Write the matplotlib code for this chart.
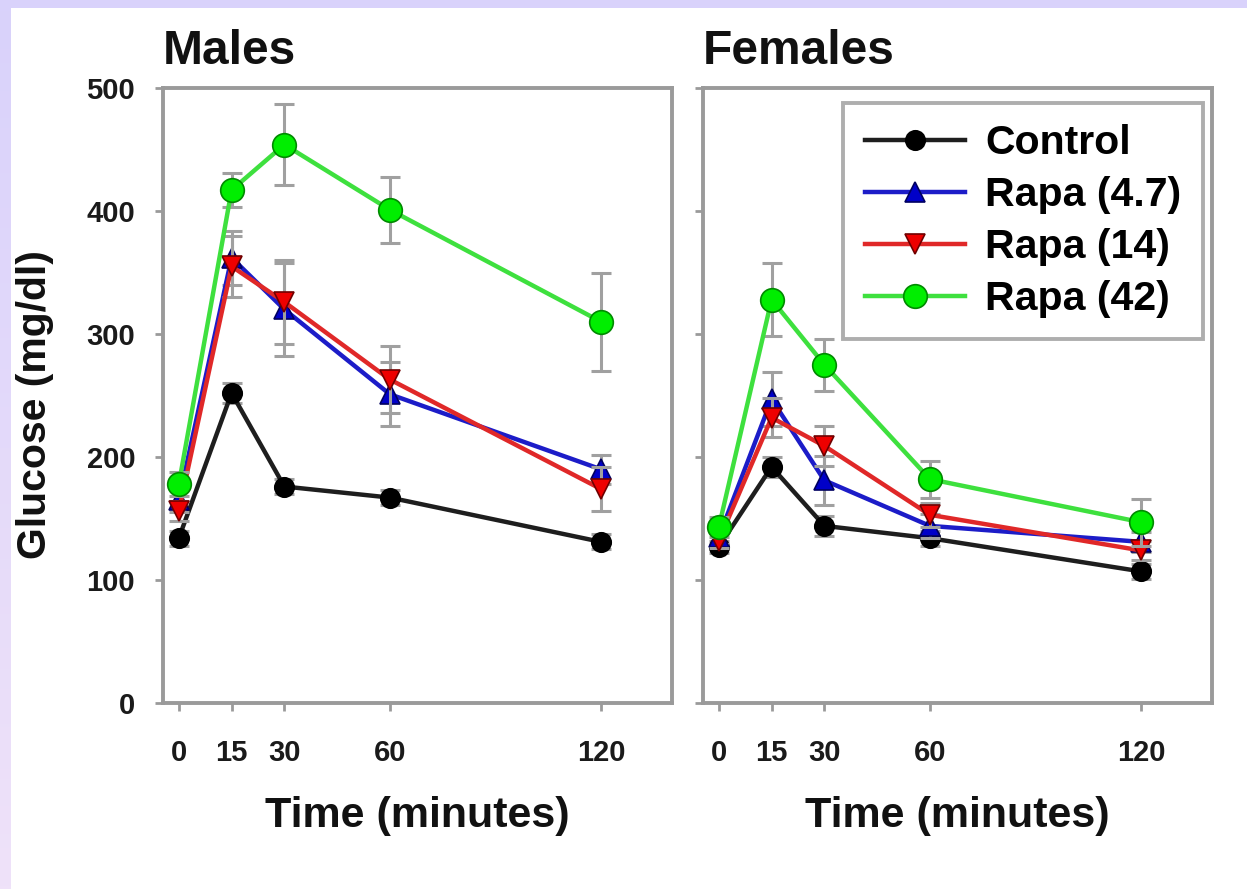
import numpy as np
import matplotlib
matplotlib.use("Agg")
import matplotlib.pyplot as plt
from matplotlib.patches import Rectangle

plt.rcParams['font.family'] = ['Liberation Sans', 'DejaVu Sans']
plt.rcParams['font.weight'] = 'bold'

# ---------------- data ----------------
times = [0, 15, 30, 60, 120]
time_labels = ['0', '15', '30', '60', '120']
y_ticks = [0, 100, 200, 300, 400, 500]

series_names = ['Control', 'Rapa (4.7)', 'Rapa (14)', 'Rapa (42)']

male_control = [134, 252, 176, 167, 131]
male_control_err = [6, 8, 6, 6, 6]
male_rapa47 = [165, 362, 320, 251, 190]
male_rapa47_err = [10, 22, 38, 26, 12]
male_rapa14 = [156, 355, 326, 263, 174]
male_rapa14_err = [8, 25, 34, 27, 18]
male_rapa42 = [178, 417, 454, 401, 310]
male_rapa42_err = [10, 14, 33, 27, 40]

female_control = [127, 192, 144, 134, 107]
female_control_err = [5, 8, 8, 6, 6]
female_rapa47 = [135, 247, 181, 144, 131]
female_rapa47_err = [6, 22, 20, 10, 8]
female_rapa14 = [132, 232, 209, 153, 124]
female_rapa14_err = [6, 16, 16, 10, 8]
female_rapa42 = [143, 328, 275, 182, 147]
female_rapa42_err = [8, 30, 21, 15, 19]

# ---------------- styles ----------------
styles = [
    dict(color='#1e1e1e', marker='o', mfc='#000000', mec='#000000', ms=14),
    dict(color='#1c1cc8', marker='^', mfc='#0000c8', mec='#000060', ms=15),
    dict(color='#e02828', marker='v', mfc='#ee0000', mec='#700000', ms=15),
    dict(color='#3ee03e', marker='o', mfc='#00ee00', mec='#008a00', ms=17),
]

W, H = 1247, 889
fig = plt.figure(figsize=(W / 100, H / 100), dpi=100)
fig.patch.set_facecolor('white')

# lavender border (top band + left gradient strip)
fig.patches.append(Rectangle((0, 1 - 8 / H), 1, 8 / H, transform=fig.transFigure,
                             facecolor='#d9d2fb', edgecolor='none', zorder=0))
strip = fig.add_axes([0, 0, 11 / W, 1 - 8 / H])
grad = np.linspace(0, 1, 256)[:, None]
c0 = np.array([0xd9, 0xd2, 0xfb]) / 255
c1 = np.array([0xef, 0xe2, 0xf9]) / 255
img = (c0[None, None, :] * (1 - grad[..., None]) + c1[None, None, :] * grad[..., None])
strip.imshow(img, aspect='auto', extent=[0, 1, 0, 1])
strip.set_axis_off()


def px_axes(left, top, right, bottom):
    return fig.add_axes([left / W, 1 - bottom / H, (right - left) / W, (bottom - top) / H])


ax_m = px_axes(163, 88, 672, 703)
ax_f = px_axes(703, 88, 1212, 703)

spine_col = '#9a9a9a'

panels = [
    (ax_m, 'Males',
     [male_control, male_rapa47, male_rapa14, male_rapa42],
     [male_control_err, male_rapa47_err, male_rapa14_err, male_rapa42_err], True),
    (ax_f, 'Females',
     [female_control, female_rapa47, female_rapa14, female_rapa42],
     [female_control_err, female_rapa47_err, female_rapa14_err, female_rapa42_err], False),
]

for ax, title, vals, errs, show_y in panels:
    for i, (v, e, st) in enumerate(zip(vals, errs, styles)):
        ax.errorbar(times, v, yerr=e, fmt='none', ecolor='#a0a0a0', elinewidth=2.2,
                    capsize=7, capthick=2.2, zorder=2 + i)
        ax.plot(times, v, color=st['color'], lw=3.2, marker=st['marker'],
                markerfacecolor=st['mfc'], markeredgecolor=st['mec'],
                markeredgewidth=1.2, markersize=st['ms'], zorder=3 + i,
                label=series_names[i])
    ax.set_xlim(-4.5, 140.2)
    ax.set_ylim(0, 500)
    ax.set_xticks(times)
    ax.set_xticklabels(time_labels)
    ax.set_yticks(y_ticks)
    if not show_y:
        ax.set_yticklabels([])
    for sp in ax.spines.values():
        sp.set_color(spine_col)
        sp.set_linewidth(2.8)
    ax.tick_params(axis='both', direction='out', length=6, width=2, color=spine_col,
                   labelsize=21, pad=14)
    ax.tick_params(axis='x', pad=20)
    for lab in ax.get_xticklabels() + ax.get_yticklabels():
        lab.set_fontweight('bold')
        lab.set_color('#1a1a1a')
    ax.set_title(title, loc='left', fontsize=34.5, fontweight='bold', pad=17,
                 color='#111111')
    ax.set_xlabel('Time (minutes)', fontsize=31, fontweight='bold', labelpad=21,
                  color='#111111')

fig.text(35 / W, 1 - 405 / H, 'Glucose (mg/dl)', rotation=90, fontsize=29.5,
         fontweight='bold', ha='center', va='center', color='#111111')

leg = ax_f.legend(loc='upper right', bbox_to_anchor=(0.982, 0.976),
                  borderaxespad=0, frameon=True, fancybox=False,
                  handlelength=2.45, labelspacing=0.34, handletextpad=0.5,
                  borderpad=0.52, prop={'weight': 'bold', 'size': 29.5})
leg.get_frame().set_edgecolor(spine_col)
leg.get_frame().set_linewidth(2.8)
leg.set_zorder(20)

fig.savefig('out.png', dpi=100, facecolor=fig.get_facecolor())
